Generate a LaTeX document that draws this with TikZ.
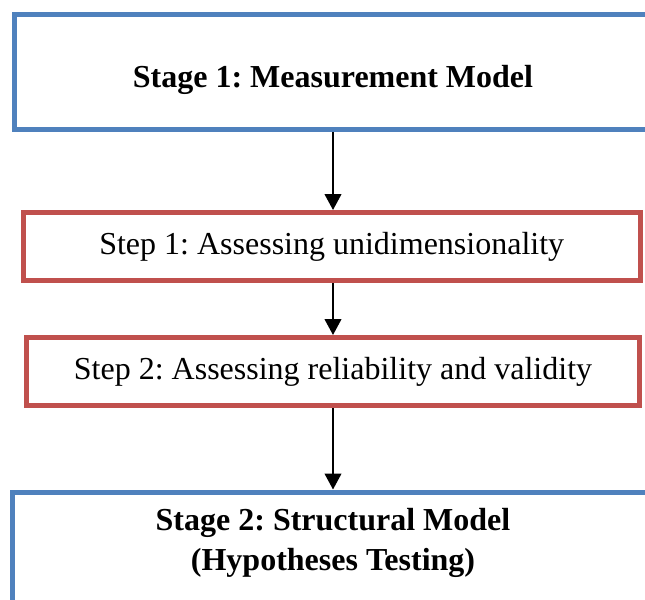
\documentclass[tikz,border=0pt]{standalone}
\usepackage{fontspec}
\setmainfont{Liberation Serif}
\usetikzlibrary{arrows.meta}
\definecolor{stageblue}{HTML}{4F81BD}
\definecolor{stepred}{HTML}{C0504D}
\frenchspacing
\tikzset{
  stagebox/.style={draw=stageblue, line width=3.75pt, rectangle, inner sep=0pt},
  stepbox/.style={draw=stepred, line width=3.75pt, rectangle, inner sep=0pt,
    font=\fontsize{24}{30}\selectfont},
  stagelabel/.style={font=\bfseries\fontsize{24}{30}\selectfont, align=center, inner sep=0pt},
  flow/.style={draw=black, line width=1.6pt, -{Triangle[width=12.5pt,length=12pt]}}
}
\begin{document}
\begin{tikzpicture}[x=0.75pt,y=-0.75pt]
  \useasboundingbox (0,0) rectangle (645,599);
  \clip (0,0) rectangle (645,599);
  \fill[white] (0,0) rectangle (645,599);

  % stage boxes run past the right (and bottom) edge of the page
  \node[stagebox, minimum width=514.1pt, minimum height=86.25pt] (stage1) at (357.25,72) {};
  \node[stagelabel] (stage1text) at (333,80) {Stage 1: Measurement Model};

  \node[stepbox, minimum width=462.4pt, minimum height=51pt] (step1) at (331.75,246.5)
    {Step 1: Assessing unidimensionality};
  \node[stepbox, minimum width=460pt, minimum height=51pt] (step2) at (333,371.5)
    {Step 2: Assessing reliability and validity};

  \node[stagebox, minimum width=515.6pt, minimum height=118.5pt] (stage2) at (356.25,571) {};
  \node[stagelabel] (stage2text) at (333,543) {Stage 2: Structural Model\\(Hypotheses Testing)};

  % connectors along the common vertical axis
  \coordinate (axis) at (333,0);
  \draw[flow] (stage1.south -| axis) -- (step1.north -| axis);
  \draw[flow] (step1.south -| axis) -- (step2.north -| axis);
  \draw[flow] (step2.south -| axis) -- (stage2.north -| axis);
\end{tikzpicture}
\end{document}
